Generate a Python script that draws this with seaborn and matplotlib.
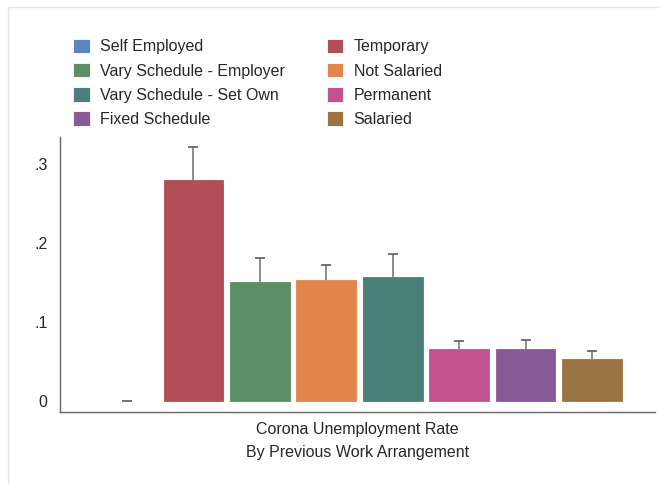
import matplotlib
matplotlib.use("Agg")
import matplotlib.pyplot as plt
import seaborn as sns
import pandas as pd
from matplotlib.patches import Rectangle

categories = ["Self Employed", "Temporary", "Vary Schedule - Employer", "Not Salaried",
              "Vary Schedule - Set Own", "Permanent", "Fixed Schedule", "Salaried"]
rates = [0.0, 0.280, 0.151, 0.154, 0.157, 0.067, 0.067, 0.0535]
upper_ci = [0.0, 0.322, 0.182, 0.173, 0.187, 0.077, 0.078, 0.0645]
colors = ["#5B87C0", "#B24E56", "#5C9064", "#E0864A",
          "#4A8079", "#C25290", "#895A98", "#9A7443"]

df = pd.DataFrame({"group": categories, "rate": rates, "upper": upper_ci})

sns.set_style("white")
plt.rcParams["font.family"] = ["Liberation Sans", "DejaVu Sans"]

fig = plt.figure(figsize=(6.6, 4.84), dpi=100)
ax = fig.add_axes([60 / 660, 1 - 412 / 484, 595 / 660, 275 / 484])

sns.barplot(data=df, x="group", y="rate", hue="group", palette=colors,
            width=0.9, dodge=False, legend=True, ax=ax, linewidth=0.6,
            saturation=1)

bars = ax.patches[:len(categories)]
for patch, r in zip(bars, rates):
    patch.set_edgecolor(patch.get_facecolor())
    if r == 0:
        patch.set_linewidth(0)

# one-sided error bars: stem from bar top, cap only at the upper end
xs = [p.get_x() + p.get_width() / 2 for p in bars]
ax.vlines(xs, df["rate"], df["upper"], color="#7a7a7a", linewidth=1.2)
ax.plot(xs, df["upper"], linestyle="none", marker="_", markersize=7,
        markeredgewidth=1.2, color="#5a5a5a")

ax.set_xlim(-1.01, 7.95)
ax.set_ylim(-0.0133, 0.3348)
ax.set_yticks([0, 0.1, 0.2, 0.3])
ax.set_yticklabels(["0", ".1", ".2", ".3"])
ax.set_xticks([])
ax.tick_params(axis="y", length=0, pad=9, labelsize=11.5)
ax.set_ylabel("")
ax.set_xlabel("Corona Unemployment Rate\nBy Previous Work Arrangement",
              fontsize=11.5, linespacing=1.7, labelpad=7)
sns.despine(ax=ax)
for s in ["left", "bottom"]:
    ax.spines[s].set_color("#666666")
    ax.spines[s].set_linewidth(1.0)

handles, labels = ax.get_legend_handles_labels()
ax.get_legend().remove()
order = [0, 2, 4, 6, 1, 3, 5, 7]
fig.legend([handles[i] for i in order], [labels[i] for i in order],
           loc="upper left", bbox_to_anchor=(73 / 660, 1 - 38.5 / 484),
           ncol=2, frameon=False, fontsize=11.5, handlelength=1.05, handleheight=1.05,
           handletextpad=0.65, columnspacing=2.6, labelspacing=0.52,
           borderpad=0, borderaxespad=0)

fig.patches.append(Rectangle((8 / 660, -0.1), 1.2, 1.1 - 7 / 484,
                             transform=fig.transFigure, fill=False,
                             edgecolor="#e4e4e4", linewidth=1.0))

fig.savefig("out.png", dpi=100)
